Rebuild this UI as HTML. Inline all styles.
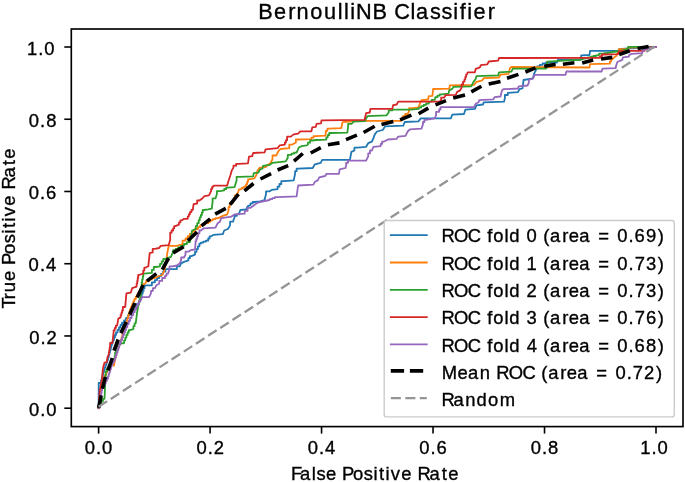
<!DOCTYPE html>
<html><head><meta charset="utf-8"><title>BernoulliNB Classifier ROC</title>
<style>html,body{margin:0;padding:0;background:#fff;}svg{display:block;filter:blur(0.3px);}</style>
</head><body>
<svg width="685" height="482" viewBox="0 0 685 482">
<rect width="685" height="482" fill="#fff"/>
<polyline points="98.6,408.2 98.7,385.8 98.7,383.0 101.0,383.0 101.0,380.2 101.8,380.2 101.8,377.5 102.5,377.5 102.5,374.8 103.2,374.8 103.2,372.0 104.0,372.0 104.0,369.6 104.8,369.6 104.8,367.2 105.6,367.2 105.6,364.8 106.4,364.8 106.4,362.4 107.2,362.4 107.2,360.0 108.0,360.0 108.0,357.5 108.7,357.5 108.7,355.0 109.3,355.0 109.3,352.5 110.0,352.5 110.0,350.0 110.7,350.0 110.7,347.5 111.3,347.5 111.3,345.0 112.0,345.0 112.0,342.5 113.0,342.5 113.0,340.0 114.0,340.0 114.0,337.5 115.0,337.5 115.0,335.0 116.0,335.0 116.0,332.5 117.5,332.5 117.5,330.0 119.0,330.0 119.0,327.5 120.5,327.5 120.5,325.0 122.0,325.0 122.0,322.7 124.0,322.7 124.0,320.3 126.0,320.3 126.0,318.0 128.0,318.0 128.0,315.3 129.7,315.3 129.7,312.7 131.3,312.7 131.3,310.0 133.0,310.0 133.0,307.1 135.9,307.1 135.9,304.2 138.8,304.2 138.8,301.5 139.8,301.5 139.8,298.9 140.7,298.9 140.7,296.2 141.7,296.2 141.7,293.5 142.7,293.5 142.7,290.9 143.6,290.9 143.6,288.2 144.6,288.2 144.6,285.3 147.6,285.3 151.9,285.3 151.9,282.3 154.9,282.3 154.9,280.1 157.1,280.1 157.1,278.0 159.2,278.0 159.2,276.0 161.1,276.0 161.1,274.0 163.0,274.0 163.0,271.6 165.5,271.6 165.5,269.2 168.0,269.2 176.8,269.2 176.8,266.3 179.7,266.3 181.1,263.4 184.0,261.9 188.4,260.4 188.4,258.2 189.9,258.2 189.9,256.1 191.4,256.1 195.0,254.6 195.0,251.8 196.5,251.8 196.5,249.1 197.9,249.1 197.9,246.3 199.4,246.3 199.4,243.6 200.9,243.6 200.9,242.6 203.3,242.6 203.3,241.7 205.8,241.7 205.8,240.7 208.2,240.7 208.2,238.5 209.6,238.5 209.6,236.3 211.1,236.3 213.3,234.9 222.8,234.1 224.2,230.5 227.9,229.0 230.1,225.4 230.1,221.7 233.0,221.7 234.5,217.3 234.5,215.9 236.7,215.9 236.7,214.4 238.8,214.4 240.3,210.0 246.1,209.3 247.6,206.4 250.5,204.9 250.5,203.4 252.7,203.4 252.7,202.0 254.9,202.0 260.0,201.3 264.5,200.0 266.0,194.2 266.0,191.3 269.6,191.3 271.8,189.9 277.6,189.1 277.6,186.6 279.5,186.6 279.5,184.0 281.3,184.0 281.3,181.1 284.2,181.1 293.7,180.4 295.1,173.8 295.1,171.2 296.6,171.2 296.6,168.7 298.1,168.7 312.7,168.0 314.9,164.3 320.7,162.8 322.2,159.9 349.9,159.9 351.4,151.9 354.4,150.5 354.4,147.6 357.3,147.6 366.1,146.8 368.2,143.2 371.9,141.7 373.4,138.1 374.8,134.4 377.0,131.5 382.8,130.0 385.0,126.4 403.3,125.7 404.7,122.0 418.6,121.3 420.8,118.4 450.8,118.4 452.3,114.7 464.0,114.0 465.4,109.6 474.9,108.9 476.4,105.3 483.0,104.5 483.7,102.3 504.1,101.6 504.9,98.0 504.9,95.0 507.8,95.0 507.8,92.8 518.0,92.1 519.5,89.2 522.4,88.5 523.1,84.1 523.5,80.0 533.1,78.3 534.0,73.9 535.3,71.3 537.0,68.0 537.0,66.5 539.8,66.5 539.8,64.9 542.6,64.9 542.6,63.4 545.4,63.4 546.3,62.5 557.0,62.5 557.7,59.9 580.8,59.9 581.2,55.4 589.5,55.0 590.0,50.8 618.2,50.8 619.0,49.1 625.0,48.7 640.0,48.0 656.0,47.0" fill="none" stroke="#1f77b4" stroke-width="1.8" stroke-linejoin="round" stroke-linecap="square"/>
<polyline points="98.6,408.2 100.0,395.0 100.0,392.5 100.7,392.5 100.7,390.0 101.3,390.0 101.3,387.5 102.0,387.5 102.0,385.0 102.7,385.0 102.7,382.5 103.3,382.5 103.3,380.0 104.0,380.0 104.0,377.5 105.0,377.5 105.0,375.0 106.0,375.0 106.0,372.5 107.0,372.5 107.0,370.0 108.0,370.0 108.0,367.2 110.4,367.2 110.4,364.5 112.8,364.5 113.9,365.7 115.1,359.7 116.3,355.0 116.3,352.5 117.2,352.5 117.2,350.0 118.2,350.0 118.2,347.5 119.1,347.5 119.1,345.0 120.0,345.0 120.0,342.5 120.8,342.5 120.8,340.0 121.5,340.0 121.5,337.5 122.2,337.5 122.2,335.0 123.0,335.0 123.0,332.5 123.8,332.5 123.8,330.0 124.5,330.0 124.5,327.5 125.2,327.5 125.2,325.0 126.0,325.0 126.0,322.4 126.8,322.4 126.8,319.8 127.6,319.8 127.6,317.2 128.4,317.2 128.4,314.6 129.2,314.6 129.2,312.0 130.0,312.0 130.0,309.3 131.1,309.3 131.1,306.6 132.2,306.6 132.2,304.0 133.3,304.0 133.3,301.3 134.4,301.3 134.4,299.0 135.8,299.0 135.8,296.6 137.2,296.6 137.2,294.3 138.6,294.3 138.6,292.0 140.0,292.0 140.0,289.3 141.5,289.3 141.5,286.5 143.1,286.5 143.1,283.8 144.6,283.8 146.1,282.3 146.1,280.9 149.0,280.9 149.0,279.4 152.0,279.4 152.0,278.0 154.9,278.0 157.8,276.5 162.2,275.0 164.3,270.7 165.0,267.7 166.5,259.0 167.3,253.1 168.7,245.8 176.8,245.8 182.6,244.4 182.6,240.7 185.5,240.7 185.5,238.5 187.7,238.5 187.7,236.2 189.8,236.2 189.8,234.0 192.0,234.0 192.0,231.5 195.0,231.5 195.0,229.0 198.0,229.0 198.0,227.2 200.2,227.2 200.2,225.4 202.3,225.4 202.3,224.3 205.2,224.3 205.2,223.2 208.2,223.2 208.2,221.8 210.4,221.8 210.4,220.3 212.6,220.3 212.6,219.2 215.5,219.2 215.5,218.1 218.4,218.1 222.8,215.9 227.2,214.4 228.6,210.0 228.6,207.1 229.7,207.1 229.7,204.2 230.8,204.2 233.0,202.7 233.0,200.3 234.0,200.3 234.0,197.8 234.9,197.8 234.9,195.4 235.9,195.4 238.1,192.5 238.8,189.6 241.8,188.9 241.8,187.8 243.9,187.8 243.9,186.7 246.1,186.7 246.1,184.3 247.1,184.3 247.1,181.8 248.0,181.8 248.0,179.4 249.0,179.4 254.2,178.4 256.3,175.3 257.3,171.1 259.4,168.0 265.6,167.0 267.7,164.9 270.3,163.5 272.5,159.2 272.5,155.5 276.2,155.5 278.4,151.2 280.5,149.0 289.3,148.2 289.3,144.6 292.2,144.6 295.9,142.4 295.9,139.5 298.1,139.5 311.4,139.2 311.4,137.6 313.6,137.6 313.6,136.1 315.8,136.1 325.4,135.6 325.8,133.0 325.8,130.8 327.4,130.8 327.4,128.6 328.9,128.6 341.2,128.2 342.5,122.1 350.8,121.6 351.7,120.8 401.1,120.8 402.6,118.4 402.6,116.2 405.1,116.2 405.1,114.0 407.7,114.0 409.1,111.1 409.1,108.1 412.8,108.1 418.6,107.4 420.1,103.0 421.5,100.1 428.0,99.5 428.8,96.2 432.4,95.9 433.1,89.0 449.2,88.6 449.9,85.3 474.2,84.8 476.4,81.9 482.2,80.4 483.7,78.2 499.0,77.5 500.5,74.6 508.5,73.9 510.0,68.0 511.4,67.0 589.5,67.5 590.0,64.1 609.9,63.7 609.9,61.4 611.1,61.4 611.1,59.1 612.4,59.1 614.0,57.4 616.5,55.8 618.2,51.6 619.0,49.1 627.6,49.1 628.0,47.5 656.0,47.0" fill="none" stroke="#ff7f0e" stroke-width="1.8" stroke-linejoin="round" stroke-linecap="square"/>
<polyline points="98.6,408.2 98.6,405.9 100.1,405.9 100.1,403.5 101.5,403.5 101.5,401.1 103.0,401.1 103.0,398.8 104.5,398.8 105.7,373.9 105.7,371.3 107.1,371.3 107.1,368.6 108.6,368.6 108.6,366.0 110.0,366.0 110.0,363.4 112.0,363.4 112.0,360.9 113.9,360.9 115.1,355.0 115.1,352.3 115.9,352.3 115.9,349.6 116.7,349.6 116.7,346.9 117.5,346.9 117.5,344.2 118.3,344.2 124.1,343.0 124.1,340.3 125.3,340.3 125.3,337.6 126.4,337.6 126.4,334.9 127.6,334.9 127.6,332.5 128.8,332.5 128.8,330.2 129.9,330.2 133.4,329.1 133.4,326.2 134.6,326.2 134.6,323.3 135.7,323.3 136.9,314.0 138.0,307.0 138.0,304.7 138.8,304.7 138.8,302.3 139.5,302.3 139.5,300.0 140.3,300.0 141.7,285.3 141.7,282.4 142.2,282.4 142.2,279.5 142.8,279.5 142.8,276.5 143.3,276.5 143.3,273.6 143.9,273.6 151.9,272.8 151.9,269.9 153.8,269.9 153.8,267.0 155.6,267.0 160.0,266.3 160.0,263.9 161.7,263.9 161.7,261.4 163.3,261.4 163.3,259.0 165.0,259.0 170.9,256.8 173.1,251.7 173.1,250.2 175.6,250.2 175.6,248.8 178.2,248.8 178.2,247.3 181.1,247.3 181.1,245.8 184.0,245.8 184.0,244.0 186.9,244.0 186.9,242.2 189.9,242.2 192.1,230.5 195.8,229.0 195.8,226.1 197.2,226.1 197.2,223.2 198.7,223.2 198.7,220.2 199.8,220.2 199.8,217.3 200.9,217.3 200.9,214.9 201.9,214.9 201.9,212.4 202.8,212.4 202.8,210.0 203.8,210.0 208.2,209.3 211.8,208.6 212.6,201.3 212.6,198.4 215.5,198.4 216.9,194.0 216.9,191.1 219.9,191.1 224.2,190.3 224.2,189.0 226.2,189.0 226.2,187.7 228.3,187.7 234.5,187.2 236.6,180.5 236.6,176.8 239.7,176.8 253.2,176.3 253.7,173.2 258.4,172.7 259.9,169.6 262.5,168.5 263.0,165.9 269.8,164.9 272.5,162.8 285.7,161.4 287.8,157.7 287.8,154.8 291.5,154.8 291.5,153.7 294.1,153.7 294.1,152.6 296.6,152.6 298.8,147.5 301.7,146.1 306.8,145.3 307.9,144.8 307.9,142.7 310.1,142.7 310.1,140.5 312.3,140.5 316.6,140.0 326.3,139.6 326.3,137.4 327.7,137.4 327.7,135.2 329.2,135.2 329.2,133.0 330.6,133.0 347.3,132.6 348.2,126.0 348.2,123.8 351.7,123.8 353.4,121.6 365.0,121.2 366.1,118.4 367.5,116.2 386.5,115.4 388.7,112.5 388.7,110.3 392.3,110.3 393.1,109.6 411.3,109.6 418.6,108.9 418.6,107.6 421.2,107.6 421.2,106.2 423.7,106.2 423.7,104.8 426.2,104.8 426.2,103.5 428.8,103.5 428.8,101.7 431.7,101.7 431.7,99.9 434.6,99.9 435.3,98.4 435.3,97.1 437.5,97.1 437.5,95.7 439.7,95.7 439.7,94.4 441.9,94.4 448.5,93.7 449.2,90.4 452.1,88.9 453.6,86.8 471.3,86.3 473.5,81.9 475.7,79.0 476.4,76.1 498.3,75.3 499.0,72.4 511.4,71.7 512.9,68.6 546.3,68.6 547.1,61.6 569.0,60.3 580.0,59.9 580.0,59.3 582.7,59.3 582.7,58.6 585.3,58.6 585.3,58.0 588.0,58.0 588.0,57.3 590.7,57.3 590.7,56.7 593.4,56.7 593.4,56.0 596.0,56.0 596.0,55.4 598.7,55.4 599.1,53.7 604.1,53.7 604.1,53.2 606.8,53.2 606.8,52.8 609.4,52.8 609.4,52.4 612.0,52.4 612.0,51.9 614.7,51.9 614.7,51.5 617.4,51.5 617.4,51.0 620.0,51.0 627.6,49.0 628.2,46.8 637.5,46.8 656.0,47.0" fill="none" stroke="#2ca02c" stroke-width="1.8" stroke-linejoin="round" stroke-linecap="square"/>
<polyline points="98.6,408.2 99.7,390.5 100.9,384.6 102.1,378.7 102.7,370.4 103.3,366.8 104.5,362.7 106.8,362.1 107.4,357.4 108.6,355.0 110.1,345.3 110.1,343.0 112.4,343.0 113.6,332.6 113.6,330.3 114.8,330.3 114.8,327.9 115.9,327.9 115.9,325.6 117.1,325.6 118.3,318.6 120.6,317.4 120.6,315.1 121.4,315.1 121.4,312.8 122.1,312.8 122.1,310.5 122.9,310.5 122.9,307.0 125.2,307.0 126.4,293.3 130.8,292.6 132.2,288.2 136.6,286.7 136.6,283.8 137.2,283.8 137.2,280.9 137.7,280.9 137.7,277.9 138.2,277.9 138.2,275.0 138.8,275.0 143.2,273.6 143.2,270.6 144.3,270.6 144.3,267.7 145.4,267.7 148.3,266.3 149.7,253.1 152.7,252.4 152.7,248.8 154.9,248.8 159.2,248.0 160.7,245.8 168.7,245.1 170.2,240.0 170.2,234.9 170.2,232.7 171.6,232.7 171.6,230.5 173.1,230.5 173.1,228.3 174.2,228.3 174.2,226.1 175.3,226.1 179.0,224.6 179.0,222.4 180.4,222.4 180.4,220.3 181.9,220.3 184.1,218.8 187.7,218.8 187.7,216.6 188.8,216.6 188.8,214.4 189.9,214.4 189.9,212.2 191.4,212.2 191.4,210.0 192.8,210.0 193.6,204.2 197.2,203.5 197.2,200.5 199.4,200.5 202.3,198.4 204.5,196.2 208.9,195.4 211.1,191.1 211.1,188.9 212.2,188.9 212.2,186.7 213.3,186.7 214.0,185.6 227.2,185.6 228.3,181.5 230.4,175.3 231.9,170.1 233.5,167.5 233.5,165.7 236.1,165.7 236.1,163.9 238.7,163.9 248.0,163.3 249.0,156.6 252.2,156.1 253.2,153.0 264.6,152.4 265.6,149.3 277.6,148.2 279.8,145.3 284.9,144.6 284.9,142.4 286.0,142.4 286.0,140.2 287.1,140.2 287.1,136.6 290.8,136.6 293.7,134.4 298.1,133.6 300.3,131.3 311.4,131.3 312.3,127.3 315.8,126.9 316.6,123.8 321.0,123.4 321.5,120.3 364.6,119.8 366.1,113.2 369.7,112.5 370.4,108.9 392.3,108.9 393.1,105.2 396.7,104.5 398.2,101.6 439.7,101.7 441.2,99.9 441.2,97.7 444.1,97.7 445.5,95.2 455.8,94.8 457.2,91.9 460.1,90.4 461.6,87.5 461.6,84.5 463.1,84.5 463.1,81.6 464.5,81.6 464.5,79.3 465.3,79.3 465.3,76.9 466.1,76.9 466.1,74.6 466.9,74.6 467.6,72.4 474.9,72.4 475.7,68.8 480.0,67.3 480.8,65.1 487.3,64.4 488.8,61.5 498.0,60.7 499.0,58.0 600.0,57.9 600.0,56.2 602.0,56.2 602.0,54.5 604.1,54.5 618.2,54.1 619.0,51.2 631.1,50.8 644.5,50.8 644.5,49.1 647.2,49.1 647.2,47.5 650.0,47.5 656.0,47.0" fill="none" stroke="#d62728" stroke-width="1.8" stroke-linejoin="round" stroke-linecap="square"/>
<polyline points="98.6,408.2 98.6,405.7 99.1,405.7 99.1,403.1 99.6,403.1 99.6,400.6 100.1,400.6 100.1,398.1 100.6,398.1 100.6,395.6 101.1,395.6 101.1,393.0 101.6,393.0 101.6,390.5 102.1,390.5 102.1,388.1 103.3,388.1 103.3,385.8 104.5,385.8 104.5,383.4 105.6,383.4 105.6,381.1 106.8,381.1 106.8,378.7 108.0,378.7 108.0,376.3 108.7,376.3 108.7,373.9 109.4,373.9 109.4,371.6 110.2,371.6 110.2,369.2 110.9,369.2 110.9,366.8 111.6,366.8 111.6,364.5 112.7,364.5 112.7,362.3 113.9,362.3 113.9,360.0 115.0,360.0 115.0,357.5 115.8,357.5 115.8,355.0 116.7,355.0 116.7,352.5 117.5,352.5 117.5,350.0 118.3,350.0 118.3,347.5 119.2,347.5 119.2,345.0 120.0,345.0 120.0,342.5 121.0,342.5 121.0,340.0 122.0,340.0 122.0,337.5 123.0,337.5 123.0,335.0 124.0,335.0 124.0,332.5 125.0,332.5 125.0,330.0 126.0,330.0 126.0,327.0 127.3,327.0 127.3,324.0 128.7,324.0 128.7,321.0 130.0,321.0 130.0,318.0 131.6,318.0 131.6,315.0 133.2,315.0 133.2,312.2 134.7,312.2 134.7,309.3 136.2,309.3 136.2,306.5 137.7,306.5 137.7,303.6 139.2,303.6 139.2,300.8 140.7,300.8 142.1,297.1 149.1,297.1 151.0,293.4 151.0,290.8 152.9,290.8 152.9,288.2 154.9,288.2 156.3,285.3 159.2,283.8 159.2,280.9 162.2,280.9 162.2,278.0 165.0,278.0 165.0,275.8 166.5,275.8 166.5,273.6 168.0,273.6 169.5,269.2 169.5,266.3 172.4,266.3 176.8,265.5 179.7,263.4 181.1,260.4 181.1,257.5 184.0,257.5 185.5,254.6 185.5,251.7 188.4,251.7 190.6,250.2 195.0,249.5 195.5,243.6 195.5,241.2 196.3,241.2 196.3,238.7 197.2,238.7 197.2,236.3 198.0,236.3 198.0,233.4 199.4,233.4 199.4,230.5 200.9,230.5 203.8,228.3 215.5,227.6 217.7,223.2 219.9,221.7 221.3,218.1 231.5,216.6 234.5,214.4 244.7,213.7 244.7,210.8 247.6,210.8 247.6,207.8 250.5,207.8 253.4,205.7 256.4,203.5 260.0,202.0 269.6,200.0 269.6,199.1 272.3,199.1 272.3,198.1 274.9,198.1 274.9,197.2 277.6,197.2 296.6,196.4 298.1,185.5 313.4,184.7 314.9,181.8 317.8,180.4 319.2,177.4 325.1,176.0 326.5,173.8 338.9,173.8 339.7,169.4 345.5,168.0 346.2,165.0 346.2,162.8 348.0,162.8 348.0,160.7 349.9,160.7 366.1,160.7 368.2,156.3 368.2,153.4 370.0,153.4 370.0,150.5 371.9,150.5 373.4,146.8 380.7,146.1 380.7,143.9 382.1,143.9 382.1,141.7 383.6,141.7 388.0,139.5 396.7,138.8 398.2,136.6 405.5,135.9 407.7,131.5 409.9,129.3 421.5,128.6 423.0,124.2 423.0,122.0 424.4,122.0 424.4,119.8 425.9,119.8 434.7,118.4 436.1,115.4 436.1,111.8 439.1,111.8 439.1,109.5 440.5,109.5 440.5,107.2 441.9,107.2 474.2,107.2 475.7,103.8 478.6,102.3 479.3,100.1 493.2,99.4 494.6,97.2 500.5,96.5 501.9,90.7 503.4,89.2 518.0,88.5 518.7,86.3 527.5,85.5 528.9,82.6 528.8,80.0 533.1,78.3 534.4,75.2 535.3,74.8 565.5,74.8 566.4,71.5 601.6,71.5 602.4,68.7 615.7,68.2 616.1,65.7 617.4,62.0 619.9,60.8 622.3,59.9 622.9,57.3 628.8,56.7 629.3,54.9 631.7,53.8 642.2,53.2 642.8,50.8 642.8,49.9 645.2,49.9 645.2,48.9 647.6,48.9 647.6,48.0 650.0,48.0 656.0,47.0" fill="none" stroke="#9467bd" stroke-width="1.8" stroke-linejoin="round" stroke-linecap="square"/>
<path d="M98.7 407.8L101.2 395.4M102.4 388.6L105.4 376.9M108.0 370.3L112.3 358.0M114.0 350.6L118.2 339.5M120.8 333.1L126.3 321.9M129.7 314.6L134.9 303.1M137.2 297.6L143.1 285.0M146.9 281.1L156.4 273.6M162.3 269.7L168.6 258.2M173.1 252.9L183.7 246.7M187.8 240.8L197.1 232.0M201.5 225.8L210.2 218.9M215.2 214.1L225.8 208.3M230.0 204.7L238.5 194.1M244.4 190.9L253.5 183.5M260.5 179.0L271.1 173.7M277.6 170.0L288.2 165.6M294.0 161.2L302.8 153.5M310.7 153.0L320.8 147.7M327.9 144.8L339.5 142.9M346.0 139.6L356.9 135.1M363.6 132.5L374.7 126.3M381.5 124.6L393.3 121.6M400.1 119.8L411.4 115.1M418.6 113.7L428.3 108.1M435.5 104.9L446.0 100.6M453.2 98.0L465.0 95.0M471.3 91.9L481.4 86.2M488.7 84.0L500.5 81.4M507.0 78.2L518.4 74.4M525.4 72.0L535.5 67.9M544.2 66.3L555.6 64.4M562.9 64.2L574.4 62.7M582.2 62.9L593.2 60.1M601.0 59.0L612.3 57.4M619.2 54.5L629.8 50.8M637.6 48.4L648.6 46.4" fill="none" stroke="#000" stroke-width="3.6" stroke-linecap="butt"/>
<line x1="98.6" y1="406.8" x2="656.0" y2="45.6" stroke="#959595" stroke-width="2.3" stroke-dasharray="10.1 4.4"/>
<rect x="384.2" y="220.5" width="290.1" height="196.4" rx="2.5" ry="2.5" fill="#fff" fill-opacity="0.8" stroke="#cccccc" stroke-width="1.4"/>
<line x1="390.8" y1="235.2" x2="426.8" y2="235.2" stroke="#1f77b4" stroke-width="1.8" stroke-linecap="square"/>
<text x="455.16 468.01 482.19 495.97 502.42 508.51 520.03 525.11 536.69 542.74 554.40 559.93 567.09 579.61 586.36 597.12 608.94 616.76 630.39 636.44 648.05 654.23 666.10 678.15" y="242.50" transform="scale(0.97,1)" font-family="Liberation Sans, sans-serif" font-size="19" fill="#000" stroke="#000" stroke-width="0.35">ROC fold 0 (area = 0.69)</text>
<line x1="390.8" y1="262.5" x2="426.8" y2="262.5" stroke="#ff7f0e" stroke-width="1.8" stroke-linecap="square"/>
<text x="455.16 468.01 482.19 495.97 502.42 508.51 520.03 525.11 536.69 542.71 554.40 559.93 567.09 579.61 586.36 597.12 608.94 616.76 630.39 636.44 648.05 654.29 666.11 678.15" y="269.80" transform="scale(0.97,1)" font-family="Liberation Sans, sans-serif" font-size="19" fill="#000" stroke="#000" stroke-width="0.35">ROC fold 1 (area = 0.73)</text>
<line x1="390.8" y1="289.8" x2="426.8" y2="289.8" stroke="#2ca02c" stroke-width="1.8" stroke-linecap="square"/>
<text x="455.16 468.01 482.19 495.97 502.42 508.51 520.03 525.11 536.69 542.70 554.40 559.93 567.09 579.61 586.36 597.12 608.94 616.76 630.39 636.44 648.05 654.29 666.11 678.15" y="297.10" transform="scale(0.97,1)" font-family="Liberation Sans, sans-serif" font-size="19" fill="#000" stroke="#000" stroke-width="0.35">ROC fold 2 (area = 0.73)</text>
<line x1="390.8" y1="317.1" x2="426.8" y2="317.1" stroke="#d62728" stroke-width="1.8" stroke-linecap="square"/>
<text x="455.16 468.01 482.19 495.97 502.42 508.51 520.03 525.11 536.69 542.90 554.40 559.93 567.09 579.61 586.36 597.12 608.94 616.76 630.39 636.44 648.05 654.29 666.04 678.15" y="324.40" transform="scale(0.97,1)" font-family="Liberation Sans, sans-serif" font-size="19" fill="#000" stroke="#000" stroke-width="0.35">ROC fold 3 (area = 0.76)</text>
<line x1="390.8" y1="344.4" x2="426.8" y2="344.4" stroke="#9467bd" stroke-width="1.8" stroke-linecap="square"/>
<text x="455.16 468.01 482.19 495.97 502.42 508.51 520.03 525.11 536.69 542.97 554.40 559.93 567.09 579.61 586.36 597.12 608.94 616.76 630.39 636.44 648.05 654.23 666.08 678.15" y="351.70" transform="scale(0.97,1)" font-family="Liberation Sans, sans-serif" font-size="19" fill="#000" stroke="#000" stroke-width="0.35">ROC fold 4 (area = 0.68)</text>
<line x1="390.8" y1="370.9" x2="426.8" y2="370.9" stroke="#000" stroke-width="3.6" stroke-dasharray="13.3 5.8"/>
<text x="455.38 471.73 482.49 494.59 506.08 511.62 524.46 538.65 552.43 557.96 565.12 577.65 584.39 595.15 606.97 614.79 628.42 634.47 646.09 652.33 663.94 676.18" y="379.00" transform="scale(0.97,1)" font-family="Liberation Sans, sans-serif" font-size="19" fill="#000" stroke="#000" stroke-width="0.35">Mean ROC (area = 0.72)</text>
<line x1="390.8" y1="398.2" x2="426.8" y2="398.2" stroke="#959595" stroke-width="2.3" stroke-dasharray="10.1 4.4"/>
<text x="455.16 467.57 479.67 491.36 503.04 515.09" y="406.30" transform="scale(0.97,1)" font-family="Liberation Sans, sans-serif" font-size="19" fill="#000" stroke="#000" stroke-width="0.35">Random</text>
<rect x="71.3" y="29" width="611.7" height="397.6" fill="none" stroke="#000" stroke-width="1.65"/>
<line x1="98.60" y1="426.6" x2="98.60" y2="433.6" stroke="#000" stroke-width="1.6"/>
<line x1="71.3" y1="408.20" x2="64.3" y2="408.20" stroke="#000" stroke-width="1.6"/>
<text x="87.48 99.10 105.19" y="454.30" transform="scale(0.97,1)" font-family="Liberation Sans, sans-serif" font-size="19" fill="#000" stroke="#000" stroke-width="0.35">0.0</text>
<text x="29.89 41.51 47.60" y="415.80" transform="scale(0.97,1)" font-family="Liberation Sans, sans-serif" font-size="19" fill="#000" stroke="#000" stroke-width="0.35">0.0</text>
<line x1="210.08" y1="426.6" x2="210.08" y2="433.6" stroke="#000" stroke-width="1.6"/>
<line x1="71.3" y1="335.96" x2="64.3" y2="335.96" stroke="#000" stroke-width="1.6"/>
<text x="202.58 214.20 220.25" y="454.30" transform="scale(0.97,1)" font-family="Liberation Sans, sans-serif" font-size="19" fill="#000" stroke="#000" stroke-width="0.35">0.2</text>
<text x="30.23 41.85 47.90" y="343.56" transform="scale(0.97,1)" font-family="Liberation Sans, sans-serif" font-size="19" fill="#000" stroke="#000" stroke-width="0.35">0.2</text>
<line x1="321.56" y1="426.6" x2="321.56" y2="433.6" stroke="#000" stroke-width="1.6"/>
<line x1="71.3" y1="263.72" x2="64.3" y2="263.72" stroke="#000" stroke-width="1.6"/>
<text x="317.15 328.77 335.07" y="454.30" transform="scale(0.97,1)" font-family="Liberation Sans, sans-serif" font-size="19" fill="#000" stroke="#000" stroke-width="0.35">0.4</text>
<text x="29.51 41.13 47.43" y="271.32" transform="scale(0.97,1)" font-family="Liberation Sans, sans-serif" font-size="19" fill="#000" stroke="#000" stroke-width="0.35">0.4</text>
<line x1="433.04" y1="426.6" x2="433.04" y2="433.6" stroke="#000" stroke-width="1.6"/>
<line x1="71.3" y1="191.48" x2="64.3" y2="191.48" stroke="#000" stroke-width="1.6"/>
<text x="432.18 443.80 449.97" y="454.30" transform="scale(0.97,1)" font-family="Liberation Sans, sans-serif" font-size="19" fill="#000" stroke="#000" stroke-width="0.35">0.6</text>
<text x="29.72 41.33 47.51" y="199.08" transform="scale(0.97,1)" font-family="Liberation Sans, sans-serif" font-size="19" fill="#000" stroke="#000" stroke-width="0.35">0.6</text>
<line x1="544.52" y1="426.6" x2="544.52" y2="433.6" stroke="#000" stroke-width="1.6"/>
<line x1="71.3" y1="119.24" x2="64.3" y2="119.24" stroke="#000" stroke-width="1.6"/>
<text x="547.13 558.75 564.97" y="454.30" transform="scale(0.97,1)" font-family="Liberation Sans, sans-serif" font-size="19" fill="#000" stroke="#000" stroke-width="0.35">0.8</text>
<text x="29.76 41.38 47.60" y="126.84" transform="scale(0.97,1)" font-family="Liberation Sans, sans-serif" font-size="19" fill="#000" stroke="#000" stroke-width="0.35">0.8</text>
<line x1="656.00" y1="426.6" x2="656.00" y2="433.6" stroke="#000" stroke-width="1.6"/>
<line x1="71.3" y1="47.00" x2="64.3" y2="47.00" stroke="#000" stroke-width="1.6"/>
<text x="660.02 671.67 677.75" y="454.30" transform="scale(0.97,1)" font-family="Liberation Sans, sans-serif" font-size="19" fill="#000" stroke="#000" stroke-width="0.35">1.0</text>
<text x="27.80 39.45 45.54" y="54.60" transform="scale(0.97,1)" font-family="Liberation Sans, sans-serif" font-size="19" fill="#000" stroke="#000" stroke-width="0.35">1.0</text>
<text x="299.99 309.32 321.41 326.21 336.17 347.38 352.60 363.94 375.10 385.12 390.72 397.55 402.87 413.62 424.84 430.38 442.79 455.33 462.09" y="480.30" transform="scale(0.97,1)" font-family="Liberation Sans, sans-serif" font-size="19" fill="#000" stroke="#000" stroke-width="0.35">False Positive Rate</text>
<g transform="translate(15.4,308.6) rotate(-90)"><text x="-0.02 9.64 16.78 28.54 39.75 44.96 56.30 67.46 77.48 83.08 89.91 95.23 105.99 117.20 122.74 135.15 147.69 154.46" y="0" transform="scale(0.97,1)" font-family="Liberation Sans, sans-serif" font-size="19" fill="#000" stroke="#000" stroke-width="0.35">True Positive Rate</text></g>
<text x="266.30 282.54 297.16 305.79 319.91 334.01 348.32 354.66 360.99 366.97 383.91 399.84 406.38 423.22 428.75 443.30 455.19 467.30 474.08 481.67 488.12 502.74" y="18.60" transform="scale(0.97,1)" font-family="Liberation Sans, sans-serif" font-size="22.4" fill="#000" stroke="#000" stroke-width="0.35">BernoulliNB Classifier</text>
</svg>
</body></html>
